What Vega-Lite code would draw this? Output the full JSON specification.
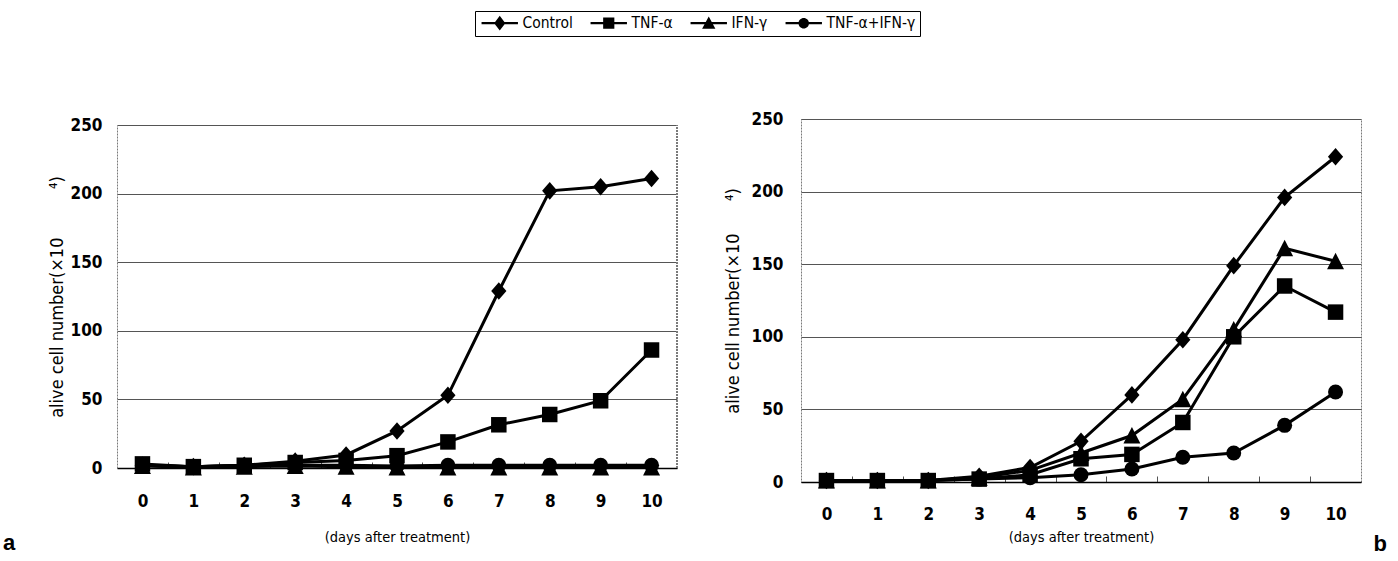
{
  "$schema": "https://vega.github.io/schema/vega-lite/v6.json",
  "background": "white",
  "padding": {"left": 3, "top": 10, "right": 0, "bottom": 0},
  "config": {
    "font": "DejaVu Sans Condensed, sans-serif",
    "view": {"stroke": "#7a7a7a", "strokeWidth": 1, "strokeDash": [2, 1]},
    "axis": {"labelColor": "black", "titleColor": "black"},
    "legend": {
      "orient": "none",
      "legendX": 358,
      "legendY": -108,
      "direction": "horizontal",
      "strokeColor": "black",
      "strokeWidth": 1,
      "padding": 4,
      "symbolSize": 196,
      "symbolFillColor": "black",
      "symbolStrokeColor": "black",
      "symbolStrokeWidth": 0,
      "symbolOpacity": 1,
      "symbolOffset": 13,
      "labelOffset": 15,
      "columnPadding": 15,
      "labelFont": "DejaVu Sans Condensed, sans-serif",
      "labelFontSize": 15.5,
      "labelColor": "black",
      "labelLimit": 300
    }
  },
  "datasets": {
    "a": [
      {"series": "Control", "day": 0, "value": 2}, {"series": "Control", "day": 1, "value": 1}, {"series": "Control", "day": 2, "value": 2}, {"series": "Control", "day": 3, "value": 5}, {"series": "Control", "day": 4, "value": 9.5}, {"series": "Control", "day": 5, "value": 27}, {"series": "Control", "day": 6, "value": 53}, {"series": "Control", "day": 7, "value": 129}, {"series": "Control", "day": 8, "value": 202}, {"series": "Control", "day": 9, "value": 205}, {"series": "Control", "day": 10, "value": 211},
      {"series": "TNF-α", "day": 0, "value": 3}, {"series": "TNF-α", "day": 1, "value": 1}, {"series": "TNF-α", "day": 2, "value": 2}, {"series": "TNF-α", "day": 3, "value": 4}, {"series": "TNF-α", "day": 4, "value": 5.5}, {"series": "TNF-α", "day": 5, "value": 9}, {"series": "TNF-α", "day": 6, "value": 19}, {"series": "TNF-α", "day": 7, "value": 31.5}, {"series": "TNF-α", "day": 8, "value": 39}, {"series": "TNF-α", "day": 9, "value": 49}, {"series": "TNF-α", "day": 10, "value": 86},
      {"series": "IFN-γ", "day": 0, "value": 1.5}, {"series": "IFN-γ", "day": 1, "value": 0.5}, {"series": "IFN-γ", "day": 2, "value": 1}, {"series": "IFN-γ", "day": 3, "value": 1.5}, {"series": "IFN-γ", "day": 4, "value": 1}, {"series": "IFN-γ", "day": 5, "value": 0.5}, {"series": "IFN-γ", "day": 6, "value": 0.5}, {"series": "IFN-γ", "day": 7, "value": 0.5}, {"series": "IFN-γ", "day": 8, "value": 0.5}, {"series": "IFN-γ", "day": 9, "value": 0.5}, {"series": "IFN-γ", "day": 10, "value": 0.5},
      {"series": "TNF-α+IFN-γ", "day": 0, "value": 2}, {"series": "TNF-α+IFN-γ", "day": 1, "value": 1}, {"series": "TNF-α+IFN-γ", "day": 2, "value": 2}, {"series": "TNF-α+IFN-γ", "day": 3, "value": 2}, {"series": "TNF-α+IFN-γ", "day": 4, "value": 2}, {"series": "TNF-α+IFN-γ", "day": 5, "value": 1.5}, {"series": "TNF-α+IFN-γ", "day": 6, "value": 2}, {"series": "TNF-α+IFN-γ", "day": 7, "value": 2}, {"series": "TNF-α+IFN-γ", "day": 8, "value": 2}, {"series": "TNF-α+IFN-γ", "day": 9, "value": 2}, {"series": "TNF-α+IFN-γ", "day": 10, "value": 2}
    ],
    "b": [
      {"series": "Control", "day": 0, "value": 1}, {"series": "Control", "day": 1, "value": 1}, {"series": "Control", "day": 2, "value": 1}, {"series": "Control", "day": 3, "value": 4}, {"series": "Control", "day": 4, "value": 10}, {"series": "Control", "day": 5, "value": 28}, {"series": "Control", "day": 6, "value": 60}, {"series": "Control", "day": 7, "value": 98}, {"series": "Control", "day": 8, "value": 149}, {"series": "Control", "day": 9, "value": 196}, {"series": "Control", "day": 10, "value": 224},
      {"series": "TNF-α", "day": 0, "value": 1}, {"series": "TNF-α", "day": 1, "value": 1}, {"series": "TNF-α", "day": 2, "value": 1}, {"series": "TNF-α", "day": 3, "value": 2}, {"series": "TNF-α", "day": 4, "value": 5}, {"series": "TNF-α", "day": 5, "value": 16}, {"series": "TNF-α", "day": 6, "value": 19}, {"series": "TNF-α", "day": 7, "value": 41}, {"series": "TNF-α", "day": 8, "value": 100}, {"series": "TNF-α", "day": 9, "value": 135}, {"series": "TNF-α", "day": 10, "value": 117},
      {"series": "IFN-γ", "day": 0, "value": 1}, {"series": "IFN-γ", "day": 1, "value": 1}, {"series": "IFN-γ", "day": 2, "value": 1}, {"series": "IFN-γ", "day": 3, "value": 3}, {"series": "IFN-γ", "day": 4, "value": 8}, {"series": "IFN-γ", "day": 5, "value": 20}, {"series": "IFN-γ", "day": 6, "value": 32}, {"series": "IFN-γ", "day": 7, "value": 57}, {"series": "IFN-γ", "day": 8, "value": 105}, {"series": "IFN-γ", "day": 9, "value": 161}, {"series": "IFN-γ", "day": 10, "value": 152},
      {"series": "TNF-α+IFN-γ", "day": 0, "value": 1}, {"series": "TNF-α+IFN-γ", "day": 1, "value": 1}, {"series": "TNF-α+IFN-γ", "day": 2, "value": 1}, {"series": "TNF-α+IFN-γ", "day": 3, "value": 2}, {"series": "TNF-α+IFN-γ", "day": 4, "value": 3}, {"series": "TNF-α+IFN-γ", "day": 5, "value": 5}, {"series": "TNF-α+IFN-γ", "day": 6, "value": 9}, {"series": "TNF-α+IFN-γ", "day": 7, "value": 17}, {"series": "TNF-α+IFN-γ", "day": 8, "value": 20}, {"series": "TNF-α+IFN-γ", "day": 9, "value": 39}, {"series": "TNF-α+IFN-γ", "day": 10, "value": 62}
    ]
  },
  "spacing": 45,
  "resolve": {
    "scale": {"x": "independent", "y": "independent", "shape": "shared"},
    "legend": {"shape": "shared"}
  },
  "hconcat": [
    {
      "width": 560,
      "height": 349,
      "view": {"stroke": null},
      "data": {"name": "a"},
      "title": {"text": "a", "orient": "bottom", "anchor": "start", "frame": "group", "dx": -114, "offset": -11, "fontSize": 22, "fontWeight": "bold", "font": "Liberation Sans", "color": "black"},
      "encoding": {
        "x": {"field": "day", "type": "quantitative", "scale": {"domain": [-0.5, 10.5], "nice": false, "zero": false},
          "axis": {"values": [0, 0.5, 1, 1.5, 2, 2.5, 3, 3.5, 4, 4.5, 5, 5.5, 6, 6.5, 7, 7.5, 8, 8.5, 9, 9.5, 10],
            "labelExpr": "datum.value % 1 === 0 ? format(datum.value, 'd') : ''",
            "tickOpacity": {"condition": {"test": "datum.value % 1 !== 0", "value": 1}, "value": 0},
            "tickSize": -6, "tickColor": "#555", "labelPadding": 31, "labelFontSize": 17, "labelFontWeight": "bold",
            "domainColor": "black", "domainWidth": 1.5, "grid": false,
            "title": "(days after treatment)", "titlePadding": 21, "titleFontSize": 14.5, "titleFontWeight": "normal"}},
        "y": {"field": "value", "type": "quantitative", "scale": {"domain": [0, 250], "nice": false, "range": [349, 6]},
          "axis": {"values": [0, 50, 100, 150, 200, 250], "ticks": false, "domain": true, "domainColor": "#7a7a7a", "domainWidth": 1, "domainDash": [2, 1],
            "grid": true, "gridColor": "#555", "gridWidth": 1,
            "labelPadding": 15, "labelFontSize": 17, "labelFontWeight": "bold",
            "title": "alive cell number(×10\u2003\u2003\u2003⁴)", "titlePadding": 4, "titleFontSize": 18, "titleFontWeight": "normal"}}
      },
      "layer": [
        {"mark": {"type": "rule", "color": "#7a7a7a", "strokeWidth": 1, "strokeDash": [2, 1]},
          "encoding": {"x": {"datum": 10.5}, "y": {"datum": 0}, "y2": {"datum": 250}}},
        {"mark": {"type": "line", "color": "black", "strokeWidth": 3}, "encoding": {"detail": {"field": "series"}}},
        {"transform": [{"filter": "datum.series === 'IFN-γ'"}], "mark": {"type": "point", "filled": true, "opacity": 1, "color": "black", "shape": "M0,-1L1,0.95L-1,0.95Z", "size": 289}},
        {"transform": [{"filter": "datum.series === 'TNF-α+IFN-γ'"}], "mark": {"type": "point", "filled": true, "opacity": 1, "color": "black", "shape": "circle", "size": 225}},
        {"transform": [{"filter": "datum.series === 'TNF-α'"}], "mark": {"type": "point", "filled": true, "opacity": 1, "color": "black", "shape": "square", "size": 240}},
        {"transform": [{"filter": "datum.series === 'Control'"}], "mark": {"type": "point", "filled": true, "opacity": 1, "color": "black", "shape": "M0,-1.1L0.95,0L0,1.1L-0.95,0Z", "size": 256}},
        {"transform": [{"filter": "false"}], "mark": {"type": "point", "filled": true, "color": "black"},
          "encoding": {
            "shape": {"field": "series", "type": "nominal",
            "scale": {"domain": ["Control", "TNF-α", "IFN-γ", "TNF-α+IFN-γ"],
              "range": [
                "M-2.6,-0.17H2.6V0.17H-2.6Z M0,-1.05L0.8,0L0,1.05L-0.8,0Z",
                "M-2.6,-0.17H2.6V0.17H-2.6Z M-0.8,-0.8H0.8V0.8H-0.8Z",
                "M-2.6,-0.17H2.6V0.17H-2.6Z M0,-0.95L0.95,0.8L-0.95,0.8Z",
                "M-2.6,-0.17H2.6V0.17H-2.6Z M0.75,0A0.75,0.75,0,1,1,-0.75,0A0.75,0.75,0,1,1,0.75,0Z"
              ]},
            "legend": {"title": null}}}}
      ]
    },
    {
      "width": 560,
      "height": 363,
      "data": {"name": "b"},
      "title": {"text": "b", "orient": "bottom", "anchor": "end", "frame": "group", "dx": 26, "offset": -10, "fontSize": 22, "fontWeight": "bold", "font": "Liberation Sans", "color": "black"},
      "encoding": {
        "x": {"field": "day", "type": "quantitative", "scale": {"domain": [-0.5, 10.5], "nice": false, "zero": false},
          "axis": {"values": [0, 0.5, 1, 1.5, 2, 2.5, 3, 3.5, 4, 4.5, 5, 5.5, 6, 6.5, 7, 7.5, 8, 8.5, 9, 9.5, 10],
            "labelExpr": "datum.value % 1 === 0 ? format(datum.value, 'd') : ''",
            "tickOpacity": {"condition": {"test": "datum.value % 1 !== 0", "value": 1}, "value": 0},
            "tickSize": -6, "tickColor": "#555", "labelPadding": 30, "labelFontSize": 17, "labelFontWeight": "bold",
            "domainColor": "black", "domainWidth": 1.5, "grid": false,
            "title": "(days after treatment)", "titlePadding": 8, "titleFontSize": 14.5, "titleFontWeight": "normal"}},
        "y": {"field": "value", "type": "quantitative", "scale": {"domain": [0, 250], "nice": false},
          "axis": {"values": [0, 50, 100, 150, 200, 250], "ticks": false, "domain": false, "grid": true, "gridColor": "#555", "gridWidth": 1,
            "labelPadding": 18, "labelFontSize": 17, "labelFontWeight": "bold",
            "title": "alive cell number(×10\u2003\u2003⁴)", "titlePadding": 9, "titleFontSize": 18, "titleFontWeight": "normal"}}
      },
      "layer": [
        {"mark": {"type": "line", "color": "black", "strokeWidth": 3}, "encoding": {"detail": {"field": "series"}}},
        {"transform": [{"filter": "datum.series === 'IFN-γ'"}], "mark": {"type": "point", "filled": true, "opacity": 1, "color": "black", "shape": "M0,-1L1,0.95L-1,0.95Z", "size": 289}},
        {"transform": [{"filter": "datum.series === 'TNF-α+IFN-γ'"}], "mark": {"type": "point", "filled": true, "opacity": 1, "color": "black", "shape": "circle", "size": 225}},
        {"transform": [{"filter": "datum.series === 'TNF-α'"}], "mark": {"type": "point", "filled": true, "opacity": 1, "color": "black", "shape": "square", "size": 240}},
        {"transform": [{"filter": "datum.series === 'Control'"}], "mark": {"type": "point", "filled": true, "opacity": 1, "color": "black", "shape": "M0,-1.1L0.95,0L0,1.1L-0.95,0Z", "size": 256}}
      ]
    }
  ]
}
